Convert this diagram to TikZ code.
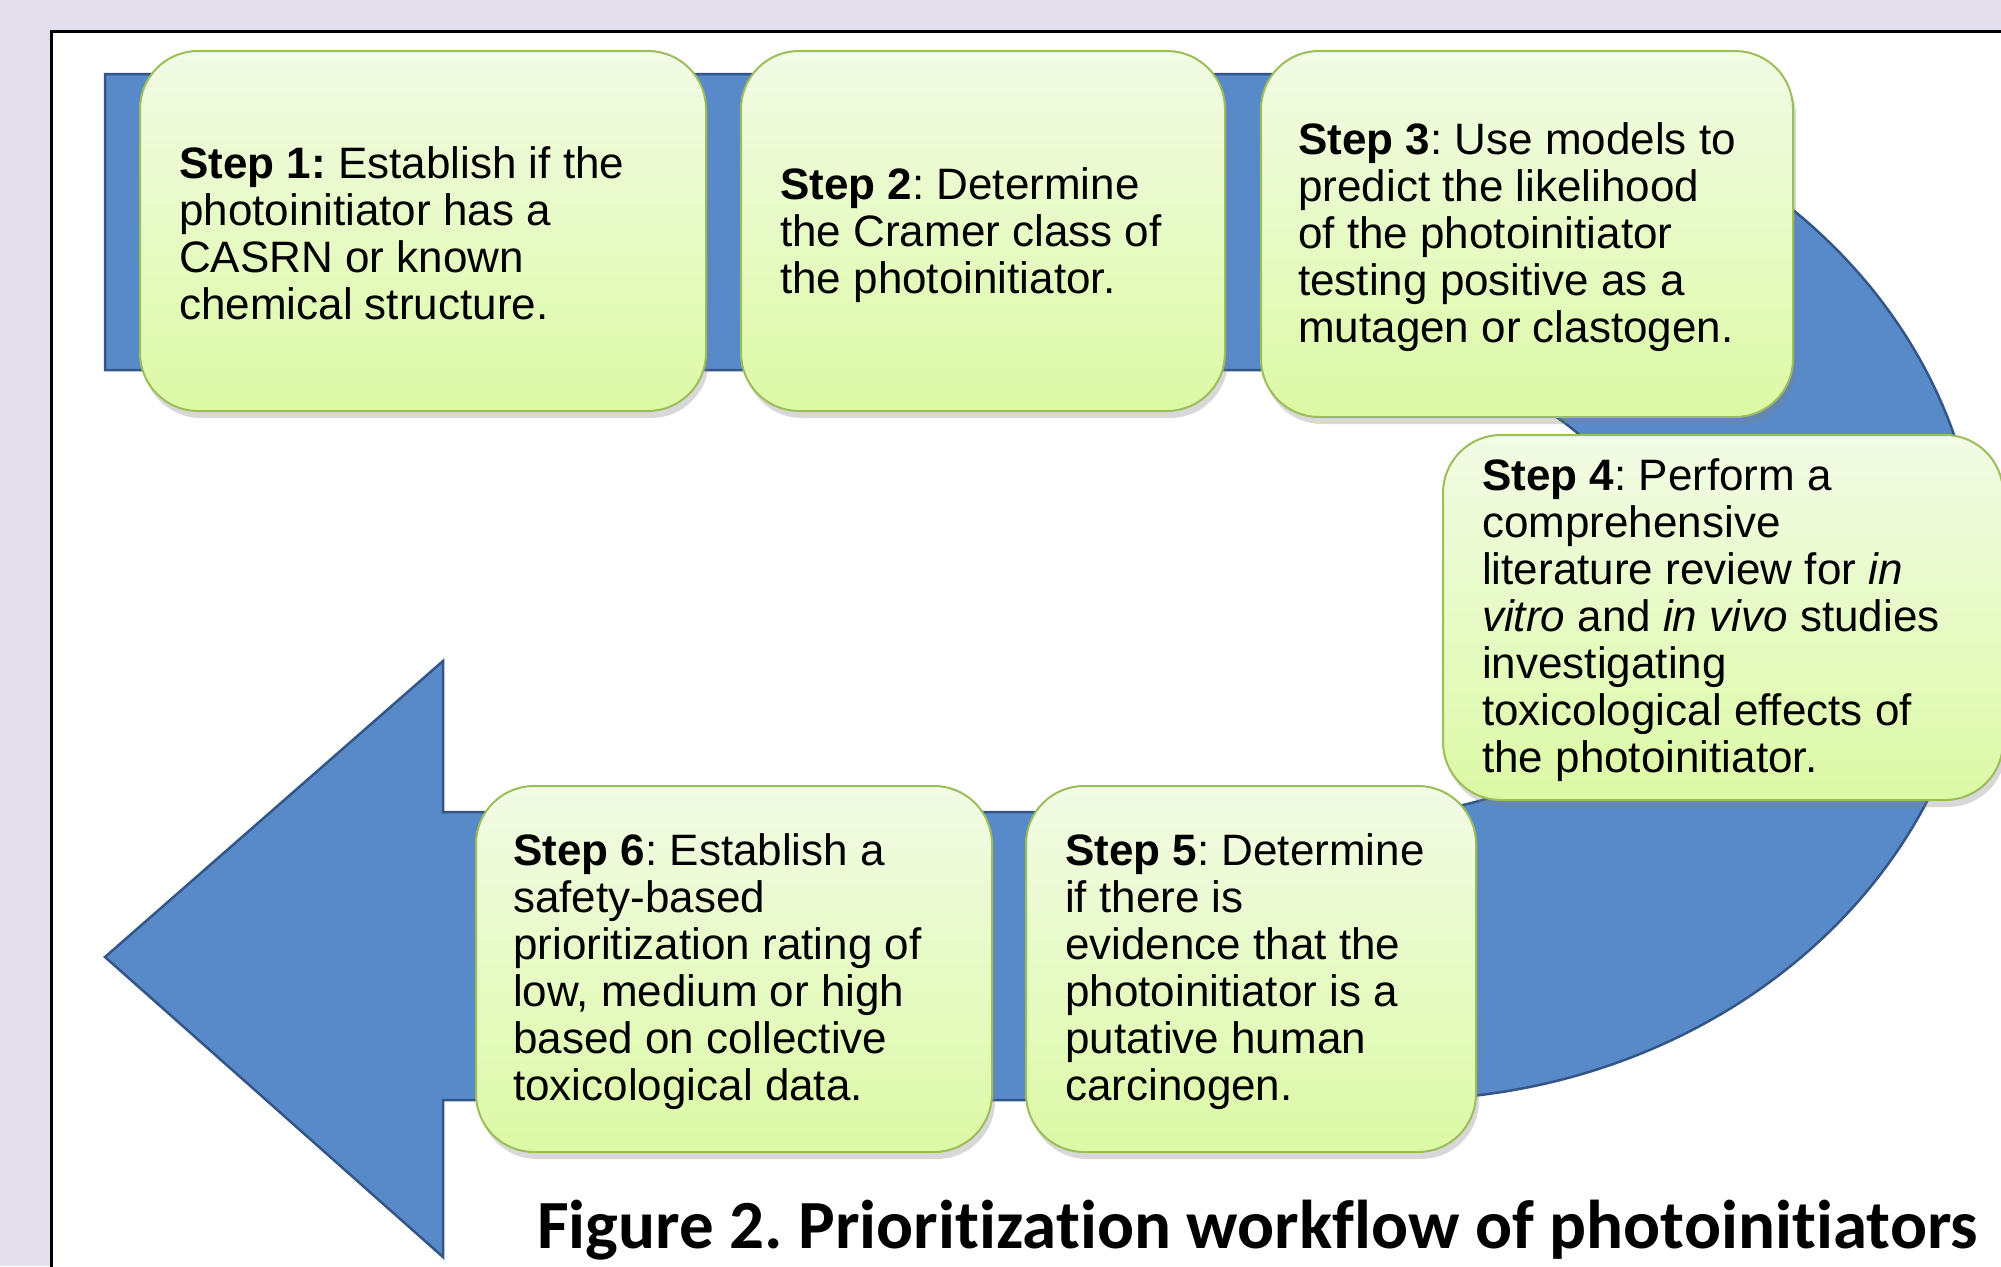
\documentclass[tikz,border=0pt]{standalone}
\usepackage{fontspec}
\setmainfont{Liberation Sans}
\newfontfamily\capfont[RawFeature={-liga;-clig;-calt;-dlig}]{Carlito}
\usetikzlibrary{shadows}
\frenchspacing
\definecolor{bglav}{RGB}{228,223,236}
\definecolor{arrowblue}{RGB}{88,138,201}
\definecolor{arrowedge}{RGB}{52,86,135}
\definecolor{boxtop}{RGB}{242,251,230}
\definecolor{boxbot}{RGB}{220,249,165}
\definecolor{boxedge}{RGB}{155,190,90}
\tikzset{
  stepbox/.style={draw=boxedge, line width=2pt, rounded corners=58pt,
    top color=boxtop, bottom color=boxbot,
    drop shadow={shadow xshift=3pt, shadow yshift=-7pt, opacity=0.3},
    inner sep=0pt},
  steptext/.style={anchor=west, align=left, inner sep=0pt,
    font=\fontsize{44}{47}\selectfont, text=black},
  captext/.style={font=\capfont\bfseries\fontsize{69}{80}\selectfont, inner sep=0pt}
}
\begin{document}
\begin{tikzpicture}[x=1pt,y=-1pt]
\useasboundingbox (0,0) rectangle (2001,1266);
\fill[bglav] (0,0) rectangle (2001,1266);
% white panel
\draw[black, line width=3pt, fill=white] (51,31) rectangle (2040,1310);
% U-turn arrow
\fill[arrowblue, draw=arrowedge, line width=2.5pt]
  (105,74) -- (1399,74)
  arc[start angle=90, end angle=-90, x radius=581pt, y radius=513pt]
  -- (443,1100) -- (443,1257) -- (105,957) -- (443,661) -- (443,812)
  -- (1399,812)
  arc[start angle=-90, end angle=90, x radius=255pt, y radius=221pt]
  -- (105,370) -- cycle;
% boxes
\node[stepbox, minimum width=566pt, minimum height=360pt] (s1) at (423,231) {};
\node[stepbox, minimum width=484pt, minimum height=360pt] (s2) at (983,231) {};
\node[stepbox, minimum width=532pt, minimum height=366pt] (s3) at (1527,234) {};
\node[stepbox, minimum width=560pt, minimum height=365pt] (s4) at (1723,617.5) {};
\node[stepbox, minimum width=450pt, minimum height=366pt] (s5) at (1251,969) {};
\node[stepbox, minimum width=516pt, minimum height=366pt] (s6) at (734,969) {};
% texts
\node[steptext] (t1) at ([xshift=40pt,yshift=-2pt]s1.west) {\textbf{Step 1:} Establish if the\\photoinitiator has a\\CASRN or known\\chemical structure.};
\node[steptext] (t2) at ([xshift=40pt,yshift=-4pt]s2.west) {\textbf{Step 2}: Determine\\the Cramer class of\\the photoinitiator.};
\node[steptext] (t3) at ([xshift=38pt,yshift=-3pt]s3.west) {\textbf{Step 3}: Use models to\\predict the likelihood\\of the photoinitiator\\testing positive as a\\mutagen or clastogen.};
\node[steptext] (t4) at ([xshift=40pt,yshift=-3pt]s4.west) {\textbf{Step 4}: Perform a\\comprehensive\\literature review for \textit{in}\\\textit{vitro} and \textit{in vivo} studies\\investigating\\toxicological effects of\\the photoinitiator.};
\node[steptext] (t5) at ([xshift=40pt,yshift=-3pt]s5.west) {\textbf{Step 5}: Determine\\if there is\\evidence that the\\photoinitiator is a\\putative human\\carcinogen.};
\node[steptext] (t6) at ([xshift=38pt,yshift=-3pt]s6.west) {\textbf{Step 6}: Establish a\\safety-based\\prioritization rating of\\low, medium or high\\based on collective\\toxicological data.};
% caption
\node[captext, anchor=base east] (cap) at (1978,1248) {Figure 2. Prioritization workflow of photoinitiators};
\end{tikzpicture}
\end{document}
